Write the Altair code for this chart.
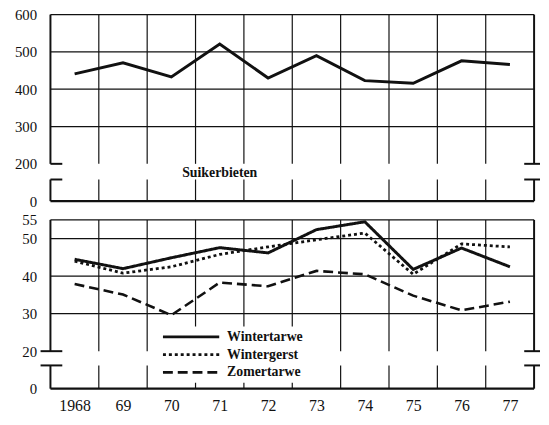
import altair as alt
import pandas as pd

# ---------------- data ----------------
years = [1968, 1969, 1970, 1971, 1972, 1973, 1974, 1975, 1976, 1977]
year_labels = ["1968", "69", "70", "71", "72", "73", "74", "75", "76", "77"]

suikerbieten = [441, 471, 433, 521, 430, 490, 423, 416, 476, 466]

series_names = ["Wintertarwe", "Wintergerst", "Zomertarwe"]
wintertarwe = [44.5, 42.0, 44.9, 47.6, 46.2, 52.4, 54.5, 41.8, 47.5, 42.5]
wintergerst = [44.0, 40.8, 42.5, 45.8, 47.8, 49.7, 51.5, 40.5, 48.6, 47.8]
zomertarwe = [37.9, 35.1, 29.6, 38.3, 37.3, 41.4, 40.5, 34.8, 30.9, 33.2]

top_ticks = [100, 200, 300, 400, 500, 600]
top_tick_labels = ["0", "200", "300", "400", "500", "600"]
bot_ticks = [10, 20, 30, 40, 50, 55]
bot_tick_labels = ["0", "20", "30", "40", "50", "55"]

top_annotation = "Suikerbieten"

# ---------------- styling / layout constants ----------------
W = 490
H_TOP = 189
H_BOT = 171
GAP = 19
FONT = "Liberation Serif"
INK = "#111111"
TOP_DOMAIN = [100, 600]
BOT_DOMAIN = [10, 55]
TOP_BREAK = (158, 200)     # display-units gap (lower, upper)
BOT_BREAK = (16.2, 20)
TOP_GRID = [300, 400, 500]
BOT_GRID = [30, 40, 50]

x_scale = alt.Scale(domain=[years[0] - 0.5, years[-1] + 0.5], nice=False, zero=False)
bounds_x = [y - 0.5 for y in years] + [years[-1] + 0.5]


def arr(vals):
    return "[" + ",".join(repr(v) if isinstance(v, str) else str(v) for v in vals) + "]"


def y_label_expr(ticks, labels):
    return f"{arr(labels)}[indexof({arr(ticks)}, datum.value)]"


x_label_expr = f"{arr(year_labels)}[datum.value - {years[0]}]"


def make_y_axis(ticks, labels):
    return alt.Axis(values=ticks, labelExpr=y_label_expr(ticks, labels), title=None,
                    domain=False, ticks=False, grid=False, labelPadding=14,
                    labelFont=FONT, labelFontSize=15, labelColor=INK, labelOverlap=False)


bottom_x_axis = alt.Axis(values=years, labelExpr=x_label_expr, title=None, domain=False,
                         ticks=False, grid=False, labelPadding=9, labelFont=FONT,
                         labelFontSize=16, labelColor=INK, labelOverlap=False)


def decorations(domain, brk, grid, y_scale, x_axis, y_axis, left_stub_start):
    ymin, ymax = domain
    vrows = []
    for i, b in enumerate(bounds_x):
        kind = "frame" if i in (0, len(bounds_x) - 1) else "grid"
        vrows.append({"x": b, "y": brk[1], "y2": ymax, "kind": kind})
        vrows.append({"x": b, "y": ymin, "y2": brk[0], "kind": kind})
    vdf = pd.DataFrame(vrows)
    vert = alt.Chart(vdf).mark_rule(color=INK).encode(
        x=alt.X("x:Q", scale=x_scale, axis=x_axis, title=None),
        y=alt.Y("y:Q", scale=y_scale, axis=y_axis, title=None),
        y2="y2:Q",
        strokeWidth=alt.condition("datum.kind == 'frame'", alt.value(2), alt.value(1.2)),
    )
    hrows = [{"y": g, "kind": "grid"} for g in grid]
    hrows.append({"y": ymax, "kind": "top"})
    hrows.append({"y": ymin, "kind": "frame"})
    hdf = pd.DataFrame(hrows)
    hdf["x"] = bounds_x[0]
    hdf["x2"] = bounds_x[-1]
    horiz = alt.Chart(hdf).mark_rule(color=INK).encode(
        x=alt.X("x:Q", scale=x_scale, axis=x_axis, title=None),
        x2="x2:Q",
        y=alt.Y("y:Q", scale=y_scale, axis=y_axis, title=None),
        strokeWidth=alt.condition("datum.kind == 'frame'", alt.value(2.2), alt.value(1.3)),
    )
    sdf = pd.DataFrame({"y": list(brk)})
    stub_l = alt.Chart(sdf).mark_rule(color=INK, strokeWidth=2).encode(
        x=alt.value(left_stub_start), x2=alt.value(12),
        y=alt.Y("y:Q", scale=y_scale, axis=y_axis, title=None),
    )
    stub_r = alt.Chart(sdf).mark_rule(color=INK, strokeWidth=2).encode(
        x=alt.value(W - 10), x2=alt.value(W + 6),
        y=alt.Y("y:Q", scale=y_scale, axis=y_axis, title=None),
    )
    return [vert, horiz, stub_l, stub_r]


# ---------------- top panel ----------------
top_scale = alt.Scale(domain=TOP_DOMAIN, nice=False, zero=False)
top_y_axis = make_y_axis(top_ticks, top_tick_labels)
top_df = pd.DataFrame({"year": years, "value": suikerbieten})

top_line = alt.Chart(top_df).mark_line(color=INK, strokeWidth=3).encode(
    x=alt.X("year:Q", scale=x_scale, axis=None, title=None),
    y=alt.Y("value:Q", scale=top_scale, axis=top_y_axis, title=None),
)

ann_df = pd.DataFrame({"x": [1971], "y": [176], "text": [top_annotation]})
top_text = alt.Chart(ann_df).mark_text(font=FONT, fontSize=14, fontWeight="bold",
                                        color=INK, align="center", baseline="middle").encode(
    x=alt.X("x:Q", scale=x_scale, axis=None, title=None),
    y=alt.Y("y:Q", scale=top_scale, axis=top_y_axis, title=None),
    text="text:N",
)

top = alt.layer(*decorations(TOP_DOMAIN, TOP_BREAK, TOP_GRID, top_scale, None, top_y_axis, 0),
                top_line, top_text).properties(width=W, height=H_TOP)

# ---------------- bottom panel ----------------
bot_scale = alt.Scale(domain=BOT_DOMAIN, nice=False, zero=False)
bot_y_axis = make_y_axis(bot_ticks, bot_tick_labels)
rows = []
for name, vals in zip(series_names, [wintertarwe, wintergerst, zomertarwe]):
    for y, v in zip(years, vals):
        rows.append({"year": y, "value": v, "series": name})
bot_df = pd.DataFrame(rows)

# legend coordinates are relative to the top panel's plot origin (shared legend)
LEG_X = 132
LEG_Y = 108 + H_TOP + GAP

bot_lines = alt.Chart(bot_df).mark_line(color=INK).encode(
    x=alt.X("year:Q", scale=x_scale, axis=bottom_x_axis, title=None),
    y=alt.Y("value:Q", scale=bot_scale, axis=bot_y_axis, title=None),
    strokeDash=alt.StrokeDash(
        "series:N",
        scale=alt.Scale(domain=series_names, range=[[1, 0], [3, 3], [10, 5]]),
        legend=alt.Legend(title=None, orient="none", legendX=LEG_X, legendY=LEG_Y,
                          symbolType="M-5,0H5", symbolSize=130, symbolStrokeWidth=3,
                          symbolStrokeColor=INK, labelFont=FONT, labelFontSize=14,
                          labelFontWeight="bold", labelColor=INK, labelOffset=29,
                          rowPadding=3, fillColor="white", padding=3),
    ),
    strokeWidth=alt.StrokeWidth("series:N",
                                scale=alt.Scale(domain=series_names, range=[3, 2.6, 3]),
                                legend=None),
    order="year:Q",
)

bottom = alt.layer(*decorations(BOT_DOMAIN, BOT_BREAK, BOT_GRID, bot_scale,
                                bottom_x_axis, bot_y_axis, -10),
                   bot_lines).properties(width=W, height=H_BOT)

chart = alt.vconcat(top, bottom, spacing=GAP, bounds="flush").configure_view(
    stroke=None
).properties(
    padding={"left": 6, "top": -3, "right": 0, "bottom": 0}
)

chart.save("out.html", embed_options={"renderer": "svg", "actions": False})
